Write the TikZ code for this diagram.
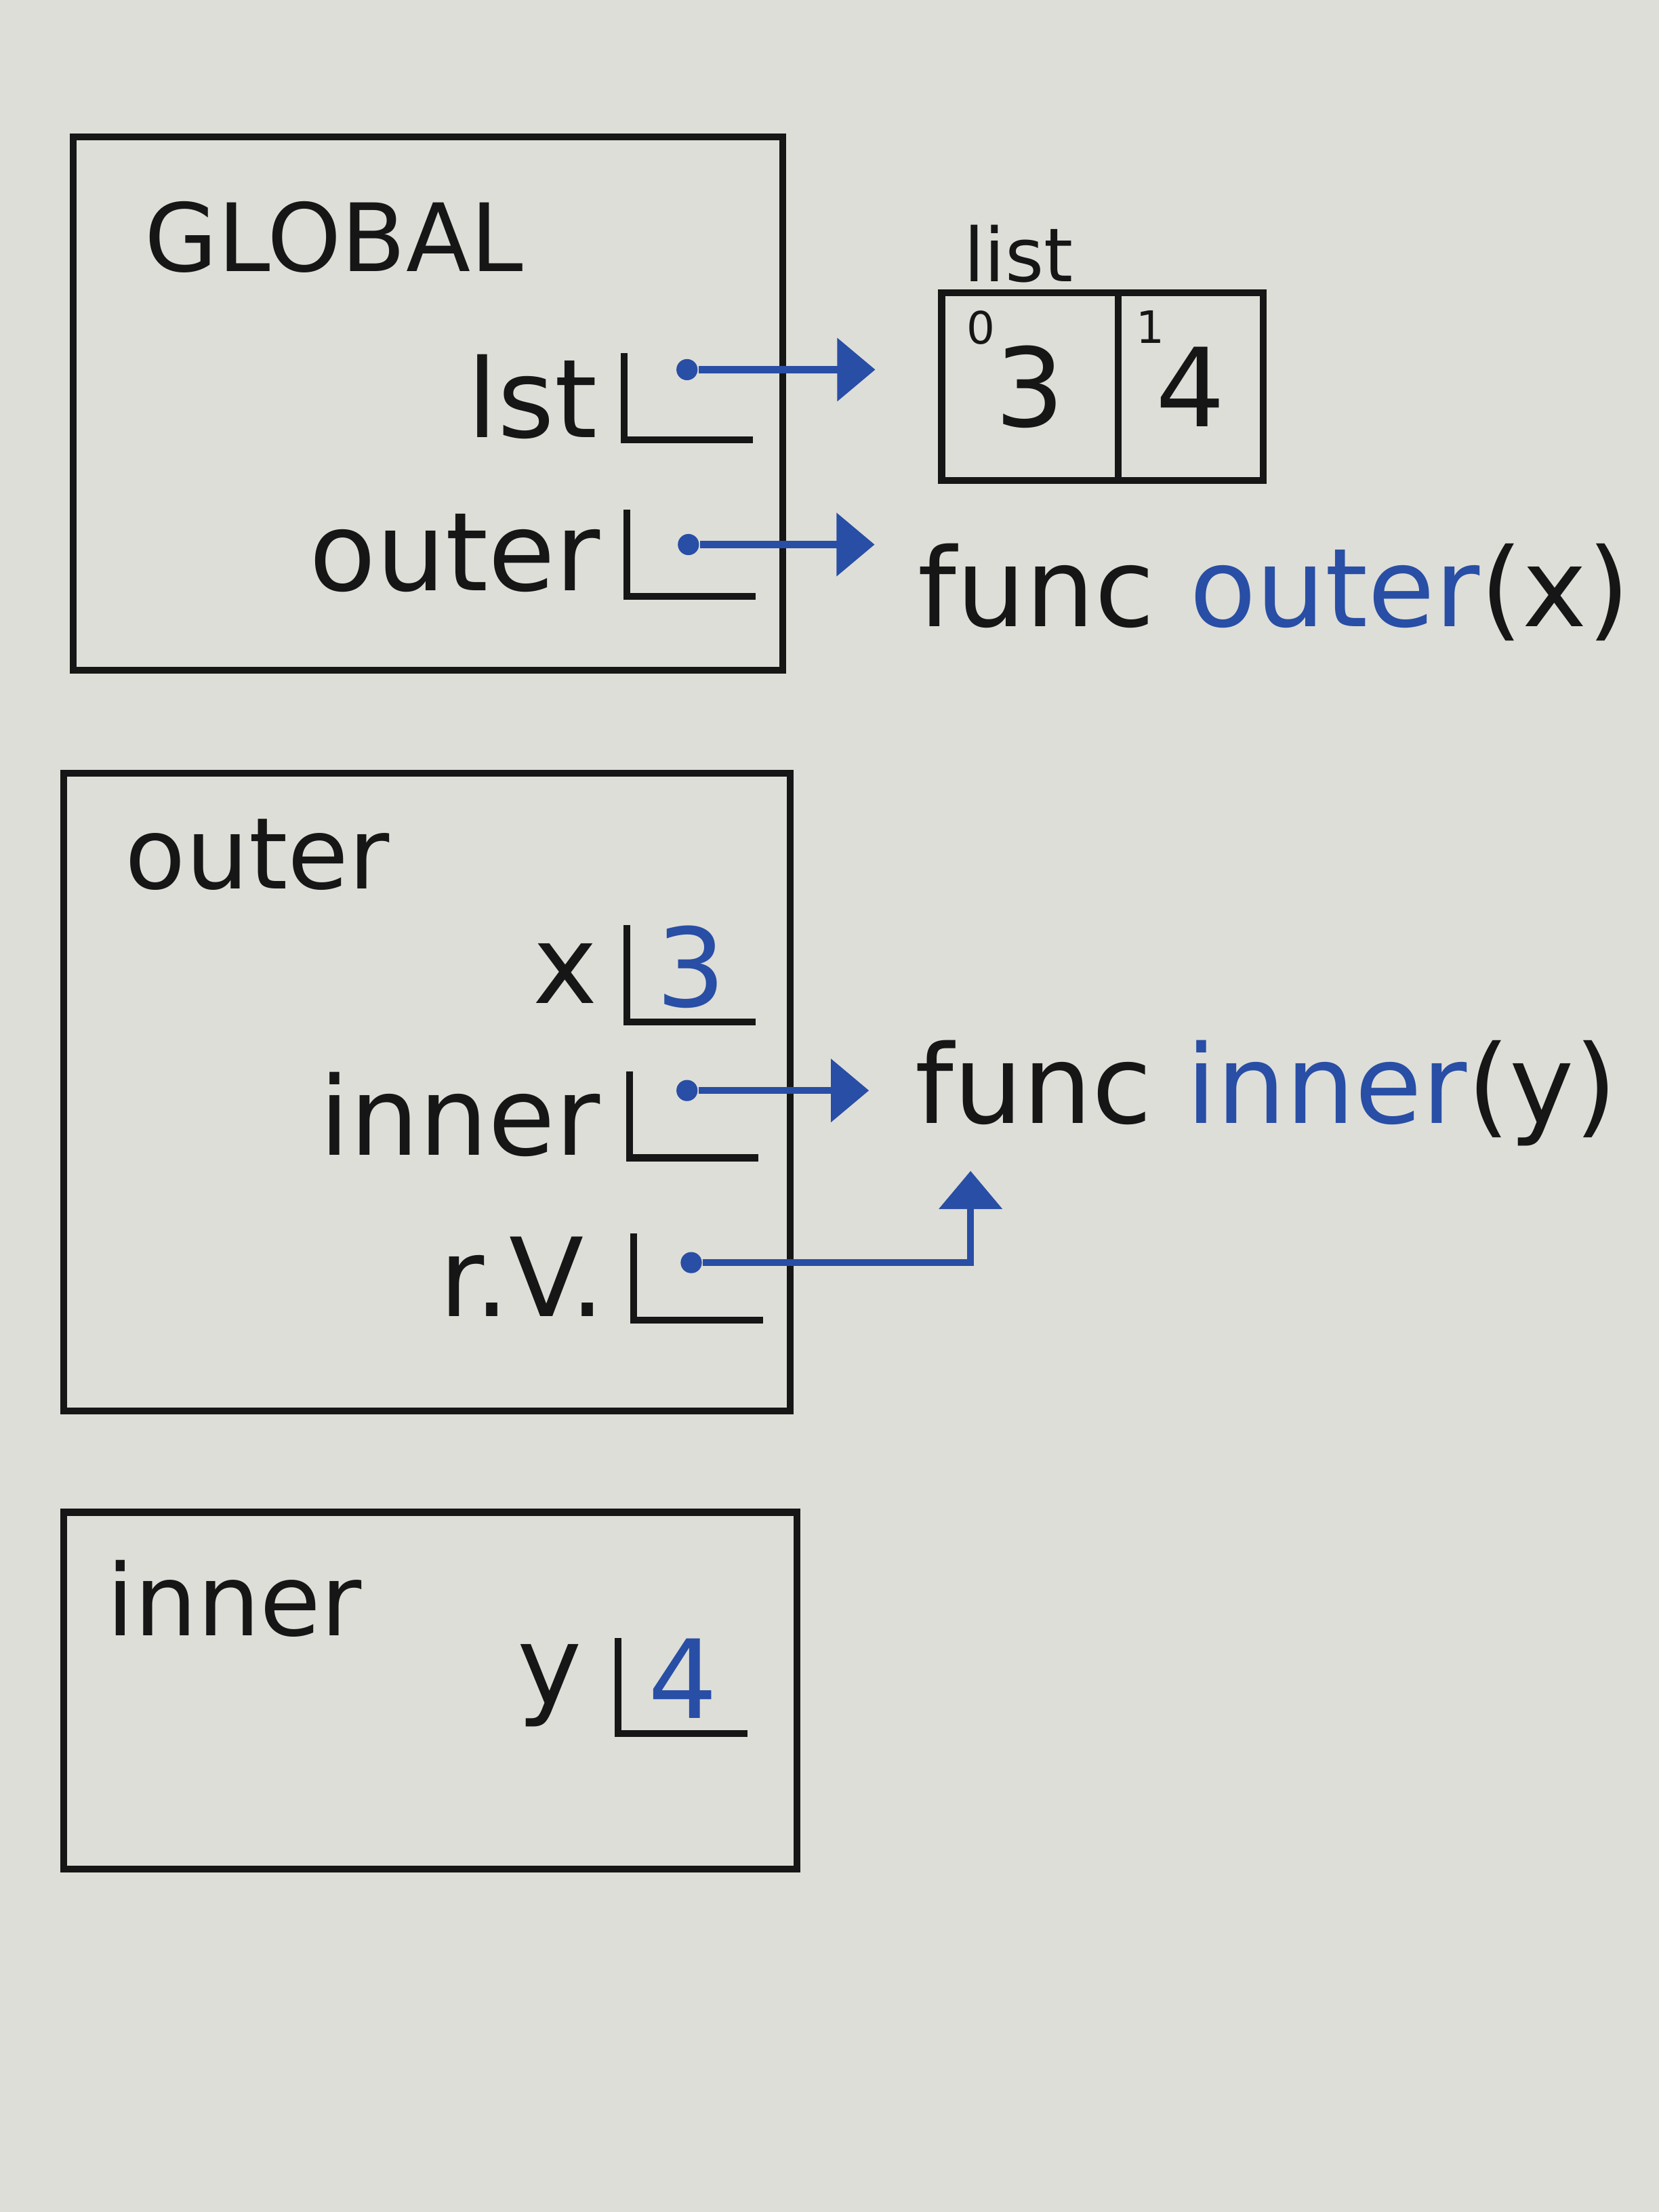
\documentclass[tikz,border=0pt]{standalone}
\usepackage{fontspec}
\setmainfont{DejaVu Sans}
\usetikzlibrary{arrows.meta,positioning}
\definecolor{pen}{RGB}{22,22,22}
\definecolor{ink}{RGB}{40,78,165}
\definecolor{paper}{RGB}{222,222,216}

\begin{document}
\begin{tikzpicture}
[x=0.01cm, y=-0.01cm,
every node/.style={inner sep=0, text=pen},
framebox/.style={draw=pen, line width=1.4pt},
slot/.style={rectangle, minimum width=0.9cm, minimum height=0.6cm, font=\fontsize{22}{26}\selectfont},
bracket/.style={draw=pen, line width=1.4pt},
varname/.style={font=\fontsize{22}{26}\selectfont},
title/.style={anchor=west, font=\fontsize{22}{26}\selectfont},
ptr/.style={circle, fill=ink, minimum size=0.15cm},
pointer/.style={draw=ink, line width=1.4pt, -{Triangle[length=0.27cm,width=0.44cm]}},
cell/.style={rectangle, draw=pen, line width=1.4pt, outer sep=0, minimum height=1.33cm, font=\fontsize{22}{26}\selectfont},
idx/.style={anchor=north west, font=\fontsize{9}{10}\selectfont},
]
\fill[paper] (0,0) rectangle (1176,1568);
\useasboundingbox (0,0) rectangle (1176,1568);
%frames
\draw[framebox] (52,97) rectangle (555,475);
\draw[framebox] (45,548) rectangle (560,1000);
\draw[framebox] (45,1072) rectangle (565,1325);
%global
\node[anchor=west, font=\fontsize{19}{22}\selectfont] (globallbl) at (102,168) {GLOBAL};
\node[slot] (lstslot) at (488,281) {};
\node[slot] (outerslot) at (490,392) {};
\node[varname, left=0.18cm of lstslot] (lstname) {lst};
\node[varname, left=0.18cm of outerslot] (outername) {outer};
\node[ptr] (lstdot) at (487,262) {};
\node[ptr] (outerdot) at (488,386) {};
% list
\node[cell, minimum width=1.25cm] (cell0) at (730,274) {\raisebox{-0.12cm}{3}};
\node[cell, minimum width=1.03cm, right=0cm of cell0] (cell1) {\raisebox{-0.1cm}{4}};
\node[idx] (idx0) at ([xshift=0.17cm, yshift=-0.12cm]cell0.north west) {0};
\node[idx] (idx1) at ([xshift=0.12cm, yshift=-0.12cm]cell1.north west) {1};
\node[font=\fontsize{15}{18}\selectfont] (listlbl) at (722,180) {list};
\node[title] (fouter) at (650,420) {func \textcolor{ink}{outer}(x)};
%outer
\node[anchor=west] (outerlbl) at (88,606) {\fontsize{20}{24}\selectfont outer};
\node[slot] (xslot) at (490,690) {\textcolor{ink}{\raisebox{0.1cm}{3}}};
\node[slot] (innerslot) at (492,790) {};
\node[slot] (rvslot) at (495,905) {};
\node[varname, left=0.2cm of xslot] (xname) {x};
\node[varname, left=0.2cm of innerslot] (innername) {inner};
\node[varname, left=0.2cm of rvslot] (rvname) {r.V.};
\node[ptr] (innerdot) at (487,773) {};
\node[ptr] (rvdot) at (490,895) {};
\node[title] (finner) at (648,775) {func \textcolor{ink}{inner}(y)};
\coordinate (rvtip) at (688,830);
%inner
\node[anchor=west] (innerlbl) at (75,1133) {\fontsize{20}{24}\selectfont inner};
\node[slot] (yslot) at (484,1195) {\textcolor{ink}{\raisebox{0.1cm}{4}}};
\node[varname, left=0.25cm of yslot] (yname) {y};
%brackets
\draw[bracket] (lstslot.north west) |- (lstslot.south east);
\draw[bracket] (outerslot.north west) |- (outerslot.south east);
\draw[bracket] (xslot.north west) |- (xslot.south east);
\draw[bracket] (innerslot.north west) |- (innerslot.south east);
\draw[bracket] (rvslot.north west) |- (rvslot.south east);
\draw[bracket] (yslot.north west) |- (yslot.south east);
%draw line
\draw[pointer, shorten >=0.47cm] (lstdot) -- (lstdot -| cell0.west);
\draw[pointer, shorten >=0.3cm] (outerdot) -- (outerdot -| fouter.west);
\draw[pointer, shorten >=0.32cm] (innerdot) -- (innerdot -| finner.west);
\draw[pointer] (rvdot) -| (rvtip);
\end{tikzpicture}
\end{document}
